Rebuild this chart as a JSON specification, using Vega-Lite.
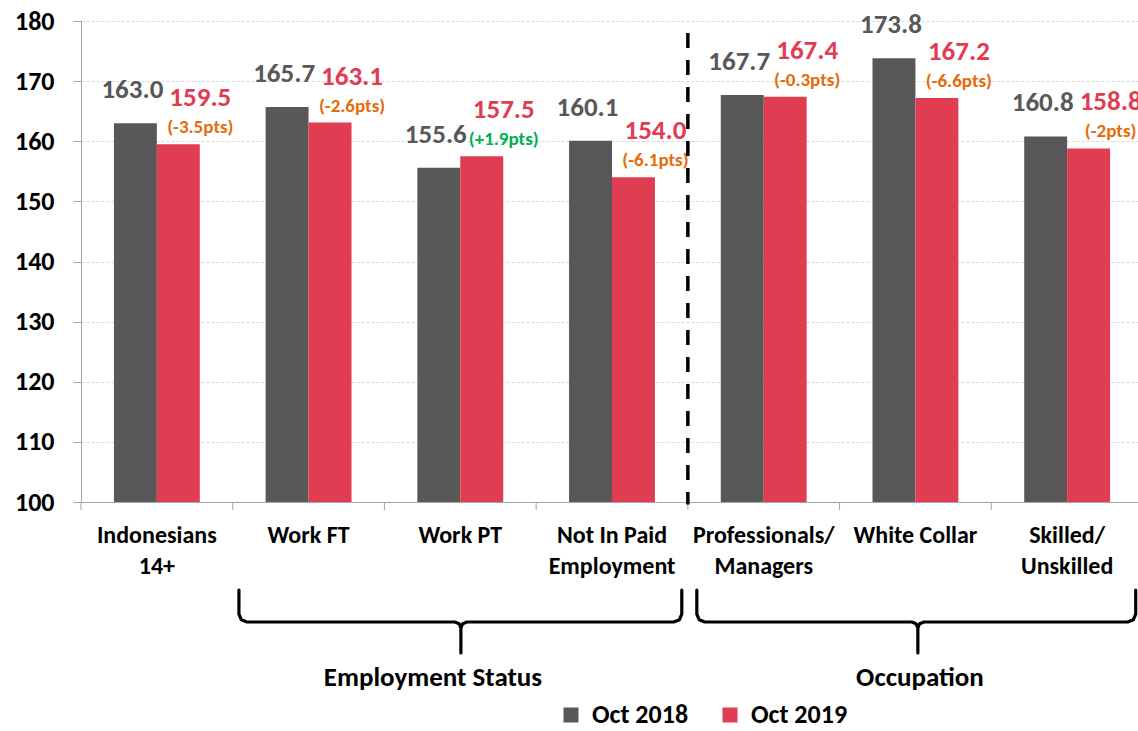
{
  "$schema": "https://vega.github.io/schema/vega-lite/v6.json",
  "width": 1062,
  "height": 481,
  "autosize": {"type": "none"},
  "padding": {"left": 81, "top": 21, "right": 0, "bottom": 229},
  "config": {
    "font": "Carlito, Lato, sans-serif",
    "view": {"stroke": null}
  },
  "datasets": {
    "bars": [
      {"cat": "Indonesians|14+", "series": "Oct 2018", "value": 163.0, "chg": ""},
      {"cat": "Indonesians|14+", "series": "Oct 2019", "value": 159.5, "chg": "(-3.5pts)"},
      {"cat": "Work FT", "series": "Oct 2018", "value": 165.7, "chg": ""},
      {"cat": "Work FT", "series": "Oct 2019", "value": 163.1, "chg": "(-2.6pts)"},
      {"cat": "Work PT", "series": "Oct 2018", "value": 155.6, "chg": ""},
      {"cat": "Work PT", "series": "Oct 2019", "value": 157.5, "chg": "(+1.9pts)"},
      {"cat": "Not In Paid|Employment", "series": "Oct 2018", "value": 160.1, "chg": ""},
      {"cat": "Not In Paid|Employment", "series": "Oct 2019", "value": 154.0, "chg": "(-6.1pts)"},
      {"cat": "Professionals/|Managers", "series": "Oct 2018", "value": 167.7, "chg": ""},
      {"cat": "Professionals/|Managers", "series": "Oct 2019", "value": 167.4, "chg": "(-0.3pts)"},
      {"cat": "White Collar", "series": "Oct 2018", "value": 173.8, "chg": ""},
      {"cat": "White Collar", "series": "Oct 2019", "value": 167.2, "chg": "(-6.6pts)"},
      {"cat": "Skilled/|Unskilled", "series": "Oct 2018", "value": 160.8, "chg": ""},
      {"cat": "Skilled/|Unskilled", "series": "Oct 2019", "value": 158.8, "chg": "(-2pts)"}
    ],
    "ticks": [{"b": 0}, {"b": 1}, {"b": 2}, {"b": 3}, {"b": 4}, {"b": 5}, {"b": 6}, {"b": 7}],
    "braces": [
      {"g": "L", "i": 0, "u": 1.041, "v": 85.36},
      {"g": "L", "i": 1, "u": 1.041, "v": 81.37},
      {"g": "L", "i": 2, "u": 1.0565, "v": 80.43},
      {"g": "L", "i": 3, "u": 1.094, "v": 80.04},
      {"g": "L", "i": 4, "u": 2.464, "v": 80.04},
      {"g": "L", "i": 5, "u": 2.4923, "v": 79.75},
      {"g": "L", "i": 6, "u": 2.504, "v": 79.04},
      {"g": "L", "i": 7, "u": 2.504, "v": 74.89},
      {"g": "L", "i": 8, "u": 2.504, "v": 79.04},
      {"g": "L", "i": 9, "u": 2.5157, "v": 79.75},
      {"g": "L", "i": 10, "u": 2.544, "v": 80.04},
      {"g": "L", "i": 11, "u": 3.907, "v": 80.04},
      {"g": "L", "i": 12, "u": 3.9445, "v": 80.43},
      {"g": "L", "i": 13, "u": 3.96, "v": 81.37},
      {"g": "L", "i": 14, "u": 3.96, "v": 85.36},
      {"g": "R", "i": 0, "u": 4.059, "v": 85.36},
      {"g": "R", "i": 1, "u": 4.059, "v": 81.37},
      {"g": "R", "i": 2, "u": 4.0745, "v": 80.43},
      {"g": "R", "i": 3, "u": 4.112, "v": 80.04},
      {"g": "R", "i": 4, "u": 5.476, "v": 80.04},
      {"g": "R", "i": 5, "u": 5.5043, "v": 79.75},
      {"g": "R", "i": 6, "u": 5.516, "v": 79.04},
      {"g": "R", "i": 7, "u": 5.516, "v": 74.89},
      {"g": "R", "i": 8, "u": 5.516, "v": 79.04},
      {"g": "R", "i": 9, "u": 5.5277, "v": 79.75},
      {"g": "R", "i": 10, "u": 5.556, "v": 80.04},
      {"g": "R", "i": 11, "u": 6.899, "v": 80.04},
      {"g": "R", "i": 12, "u": 6.9365, "v": 80.43},
      {"g": "R", "i": 13, "u": 6.952, "v": 81.37},
      {"g": "R", "i": 14, "u": 6.952, "v": 85.36}
    ],
    "groups": [
      {"name": "Employment Status", "u": 2.32, "v": 70.73},
      {"name": "Occupation", "u": 5.53, "v": 70.73}
    ]
  },
  "layer": [
    {
      "data": {"name": "bars"},
      "mark": {"type": "bar"},
      "encoding": {
        "x": {
          "field": "cat", "type": "nominal", "sort": null,
          "scale": {"paddingInner": 0.434, "paddingOuter": 0.217},
          "axis": {
            "title": null, "labelExpr": "split(datum.label, '|')", "ticks": false,
            "domainColor": "#a6a6a6", "labelFontSize": 24, "labelFontWeight": "bold",
            "labelColor": "#000000", "labelPadding": 21, "labelLineHeight": 31,
            "labelAngle": 0, "labelOverlap": false, "labelLimit": 300
          }
        },
        "xOffset": {"field": "series", "type": "nominal", "scale": {"domain": ["Oct 2018", "Oct 2019"]}},
        "y": {
          "field": "value", "type": "quantitative",
          "scale": {"domain": [100, 180], "nice": false, "zero": false},
          "axis": {
            "title": null, "values": [100, 110, 120, 130, 140, 150, 160, 170, 180],
            "grid": true, "gridColor": "#d9d9d9", "gridDash": [3, 2],
            "domainColor": "#a6a6a6", "tickColor": "#a6a6a6", "tickSize": 8,
            "labelFontSize": 26, "labelFontWeight": "bold", "labelColor": "#000000",
            "labelPadding": 19
          }
        },
        "y2": {"datum": 100},
        "color": {
          "field": "series", "type": "nominal",
          "scale": {"domain": ["Oct 2018", "Oct 2019"], "range": ["#595758", "#E03C52"]},
          "legend": {
            "title": null, "orient": "none", "legendX": 477, "legendY": 681,
            "direction": "horizontal", "symbolType": "square", "symbolSize": 225,
            "symbolStrokeWidth": 0, "labelFontSize": 26, "labelFontWeight": "bold",
            "labelColor": "#000000", "labelOffset": 8, "columnPadding": 28, "padding": 0
          }
        }
      }
    },
    {
      "data": {"name": "bars"},
      "transform": [{"filter": "datum.series == 'Oct 2018'"}],
      "mark": {"type": "text", "fontSize": 27, "fontWeight": "bold", "color": "#595758", "dy": -33, "dx": -3, "baseline": "middle"},
      "encoding": {
        "x": {"field": "cat", "type": "nominal", "sort": null, "scale": {"paddingInner": 0.434, "paddingOuter": 0.217}, "axis": null},
        "xOffset": {"field": "series", "type": "nominal", "scale": {"domain": ["Oct 2018", "Oct 2019"]}},
        "y": {"field": "value", "type": "quantitative", "scale": {"domain": [100, 180], "nice": false, "zero": false}},
        "text": {"field": "value", "type": "quantitative", "format": ".1f"}
      }
    },
    {
      "data": {"name": "bars"},
      "transform": [{"filter": "datum.series == 'Oct 2019'"}],
      "mark": {"type": "text", "fontSize": 27, "fontWeight": "bold", "color": "#E03C52", "dy": -46, "dx": 22, "baseline": "middle"},
      "encoding": {
        "x": {"field": "cat", "type": "nominal", "sort": null, "scale": {"paddingInner": 0.434, "paddingOuter": 0.217}, "axis": null},
        "xOffset": {"field": "series", "type": "nominal", "scale": {"domain": ["Oct 2018", "Oct 2019"]}},
        "y": {"field": "value", "type": "quantitative", "scale": {"domain": [100, 180], "nice": false, "zero": false}},
        "text": {"field": "value", "type": "quantitative", "format": ".1f"}
      }
    },
    {
      "data": {"name": "bars"},
      "transform": [{"filter": "datum.series == 'Oct 2019'"}],
      "mark": {"type": "text", "fontSize": 19, "fontWeight": "bold", "dy": -17, "dx": 22, "baseline": "middle"},
      "encoding": {
        "x": {"field": "cat", "type": "nominal", "sort": null, "scale": {"paddingInner": 0.434, "paddingOuter": 0.217}, "axis": null},
        "xOffset": {"field": "series", "type": "nominal", "scale": {"domain": ["Oct 2018", "Oct 2019"]}},
        "y": {"field": "value", "type": "quantitative", "scale": {"domain": [100, 180], "nice": false, "zero": false}},
        "text": {"field": "chg", "type": "nominal"},
        "color": {"condition": {"test": "indexof(datum.chg, '+') >= 0", "value": "#00B050"}, "value": "#E46C0A"}
      }
    },
    {
      "data": {"name": "ticks"},
      "mark": {"type": "rule", "color": "#a6a6a6", "strokeWidth": 1},
      "encoding": {
        "x": {"field": "b", "type": "quantitative", "scale": {"domain": [0, 7], "nice": false, "zero": false}, "axis": null},
        "y": {"datum": 100, "type": "quantitative", "scale": {"domain": [100, 180], "nice": false, "zero": false}},
        "y2": {"datum": 98.67}
      }
    },
    {
      "data": {"values": [{"b": 4}]},
      "mark": {"type": "rule", "color": "#000000", "strokeWidth": 3.5, "strokeDash": [15, 12]},
      "encoding": {
        "x": {"field": "b", "type": "quantitative", "scale": {"domain": [0, 7], "nice": false, "zero": false}, "axis": null},
        "y": {"datum": 178, "type": "quantitative", "scale": {"domain": [100, 180], "nice": false, "zero": false}},
        "y2": {"datum": 99.6}
      }
    },
    {
      "data": {"name": "braces"},
      "mark": {"type": "line", "color": "#000000", "strokeWidth": 3.2, "strokeCap": "round", "strokeJoin": "round"},
      "encoding": {
        "x": {"field": "u", "type": "quantitative", "scale": {"domain": [0, 7], "nice": false, "zero": false}, "axis": null},
        "y": {"field": "v", "type": "quantitative", "scale": {"domain": [100, 180], "nice": false, "zero": false}},
        "detail": {"field": "g", "type": "nominal"},
        "order": {"field": "i", "type": "quantitative"}
      }
    },
    {
      "data": {"name": "groups"},
      "mark": {"type": "text", "fontSize": 27, "fontWeight": "bold", "color": "#000000", "baseline": "middle"},
      "encoding": {
        "x": {"field": "u", "type": "quantitative", "scale": {"domain": [0, 7], "nice": false, "zero": false}, "axis": null},
        "y": {"field": "v", "type": "quantitative", "scale": {"domain": [100, 180], "nice": false, "zero": false}},
        "text": {"field": "name", "type": "nominal"}
      }
    }
  ],
  "resolve": {"scale": {"x": "independent"}, "axis": {"x": "independent"}}
}
